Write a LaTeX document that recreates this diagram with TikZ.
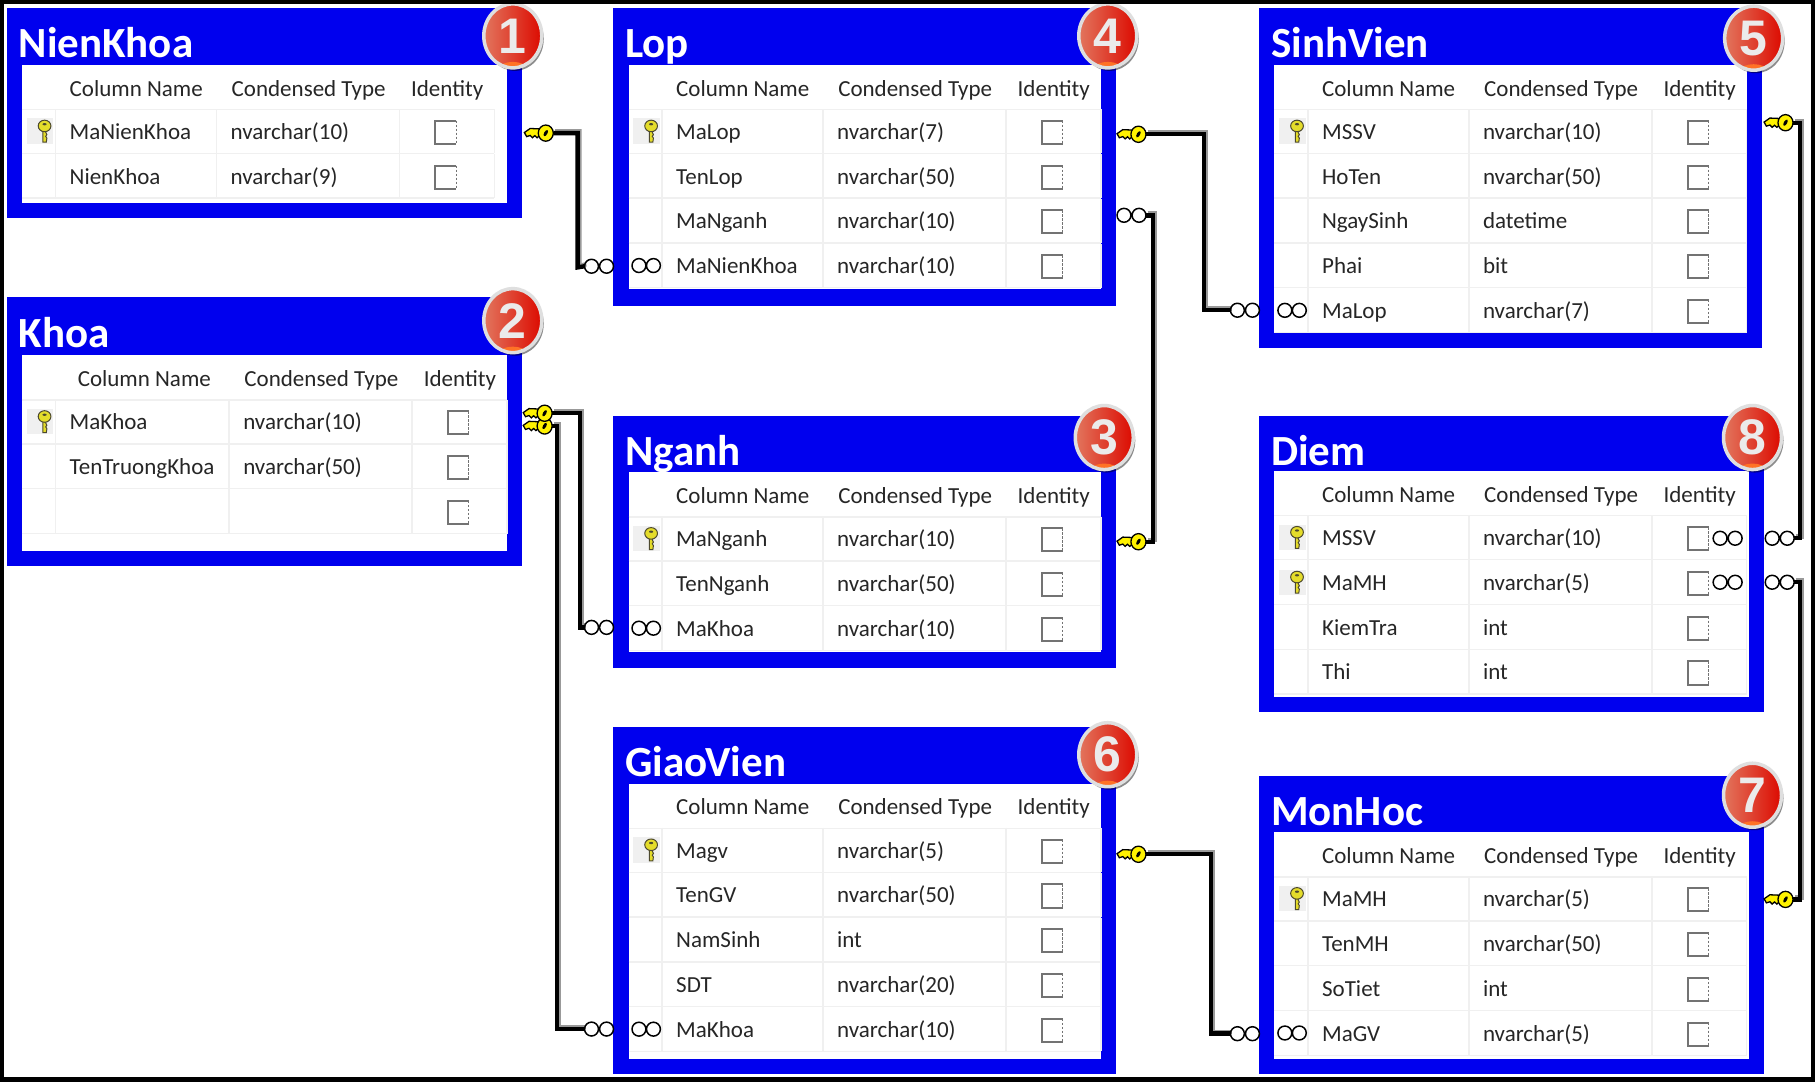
\documentclass[tikz,border=0pt]{standalone}
\usepackage{fontspec}
\setmainfont{Carlito}
\newfontfamily\sofont{Liberation Sans}
\usetikzlibrary{shapes.geometric,shadows}
\definecolor{xanhbang}{HTML}{0000EE}
\definecolor{vangkhoa}{HTML}{FFF200}
\definecolor{vangcot}{HTML}{E4DC2A}
\definecolor{luoibang}{HTML}{F0F0F0}
\definecolor{dotrai}{HTML}{E2765E}
\definecolor{dophai}{HTML}{DC0A00}
\tikzset{
  tieude/.style={anchor=base west,inner sep=0,text=white,font=\fontsize{43}{43}\selectfont\bfseries},
  chu/.style={anchor=base west,inner sep=0,text=black!85,font=\fontsize{23}{23}\selectfont},
  huyhieu/.style={ellipse,minimum width=58pt,minimum height=64pt,inner sep=0,text=white!92!black,
    font=\fontsize{50}{50}\selectfont\sofont\bfseries,left color=dotrai,right color=dophai,
    draw=gray!25,line width=3.5pt,drop shadow={shadow xshift=2pt,shadow yshift=-3pt,opacity=.45,fill=black},
    path picture={\fill[orange!70!red!85!white] (path picture bounding box.south) ellipse (13pt and 6pt);}},
  lienket/.style={draw=black,line width=4.4pt,
    preaction={draw=gray!80,line width=4.4pt,transform canvas={shift={(1.8pt,1.8pt)}}}},
  luoi/.style={draw=luoibang,line width=1.4pt},
  khoangang/.pic={
    \filldraw[fill=vangkhoa,draw=black,line width=1.3pt] (-8,-3.5) -- (-20,-4) -- (-25,-.5) -- (-23,3) -- (-20,2)
      -- (-18,4) -- (-16,2.2) -- (-14,4) -- (-12,2.2) -- (-8,3.5) -- cycle;
    \filldraw[fill=vangkhoa,draw=black,line width=1.3pt] (-6.5,0) ellipse (6.5 and 7);
    \fill[black,rotate around={60:(-6.5,0)}] (-6.5,0) ellipse (3 and 1.4);
  },
  cotkhoa/.pic={
    \fill[gray!12] (-11,-11) rectangle (12,11);
    \filldraw[fill=vangcot,draw=black!60!olive,line width=1pt] (3,-2) -- (3,9.5) -- (6,9.5) -- (6.5,6) -- (5.5,4.5) -- (6.5,3) -- (5.5,1)
      -- (6,-2) -- cycle;
    \filldraw[fill=vangcot,draw=black!60!olive,line width=1pt] (4.5,-4.5) ellipse (5.5 and 5);
    \fill[black!60!olive] (4.5,-6) ellipse (1.8 and 1);
  },
  vocuc/.pic={
    \draw[black,line width=1.5pt] (6,0) circle (6) (19,0) circle (6);
  },
  cotvocuc/.pic={
    \draw[black,line width=1.5pt] (-6,0) circle (6) (6.5,0) circle (6);
  },
  trong/.pic={},
  otick/.pic={
    \draw[gray!90!black,line width=2pt] (9,-10) -- (-9,-10) -- (-9,10) -- (9,10);
    \draw[gray!90!black,line width=1pt,dash pattern=on 2.5pt off 1.5pt] (9,-10) -- (9,10);
  },
}
% Độ lệch cột (bảng Khoa rộng hơn)
\def\lechcot{0}
\def\lechten{0}
% #1 tên, #2 tiêu đề, #3 trái, #4 trên, #5 phải, #6 đáy trắng, #7 đáy, #8 y tiêu đề cột, #9 các dòng
\newcommand{\bangdl}[9]{
  \fill[xanhbang] (#3,#4) rectangle (#5,#7);
  \fill[white] (#3+13,#8-20) rectangle (#5-13,#6);
  \node[tieude] (#1-ten) at (#3+10,#4+43) {#2};
  \node[chu] (#1-cot) at (#3+54+\lechten,#8+7) {Column Name};
  \node[chu] (#1-kieu) at (#3+194+\lechcot,#8+7) {Condensed Type};
  \node[chu] (#1-dinh) at (#3+349+\lechcot,#8+7) {Identity};
  \draw[luoi] (#3+13,#8+18.5) -- (#3+421+\lechcot,#8+18.5);
  \foreach \ten/\kieu/\dau [count=\i] in {#9} {
    \pgfmathsetmacro{\ydong}{#8+37.3+(\i-1)*38.7}
    \draw[luoi] (#3+13,\ydong+19.2) -- (#3+421+\lechcot,\ydong+19.2);
    \foreach \xcot in {42,181,339,421}
      \draw[luoi] ({#3+\xcot+(\xcot>42)*\lechcot},\ydong-19) -- ({#3+\xcot+(\xcot>42)*\lechcot},\ydong+19.2);
    \pic at (#3+28,\ydong) {\dau};
    \node[chu] (#1-ten\i) at (#3+54,\ydong+7) {\ten};
    \node[chu] (#1-kieu\i) at (#3+193+\lechcot,\ydong+7) {\kieu};
    \pic at (#3+379+\lechcot,\ydong+1) {otick};
  }
}
\begin{document}
\begin{tikzpicture}[x=1.1575pt,y=-1.1575pt]
    \useasboundingbox (0,0) rectangle (1568,934);
    \fill[white] (0,0) rectangle (1568,934);

    % Vẽ các bảng
    \bangdl{nienkhoa}{NienKhoa}{6}{7}{451}{175}{188}{76}{MaNienKhoa/nvarchar(10)/cotkhoa,NienKhoa/nvarchar(9)/trong}
    \def\lechcot{11}
    \def\lechten{7}
    \bangdl{khoa}{Khoa}{6}{257}{451}{476}{489}{327}{MaKhoa/nvarchar(10)/cotkhoa,TenTruongKhoa/nvarchar(50)/trong,{}/{}/trong}
    \def\lechcot{0}
    \def\lechten{0}
    \bangdl{lop}{Lop}{530}{7}{964}{250}{264}{76}{MaLop/nvarchar(7)/cotkhoa,TenLop/nvarchar(50)/trong,MaNganh/nvarchar(10)/trong,MaNienKhoa/nvarchar(10)/cotvocuc}
    \bangdl{nganh}{Nganh}{530}{359}{964}{563}{577}{428}{MaNganh/nvarchar(10)/cotkhoa,TenNganh/nvarchar(50)/trong,MaKhoa/nvarchar(10)/cotvocuc}
    \bangdl{giaovien}{GiaoVien}{530}{628}{964}{915}{928}{697}{Magv/nvarchar(5)/cotkhoa,TenGV/nvarchar(50)/trong,NamSinh/int/trong,SDT/nvarchar(20)/trong,MaKhoa/nvarchar(10)/cotvocuc}
    \bangdl{sinhvien}{SinhVien}{1088}{7}{1522}{288}{301}{76}{MSSV/nvarchar(10)/cotkhoa,HoTen/nvarchar(50)/trong,NgaySinh/datetime/trong,Phai/bit/trong,MaLop/nvarchar(7)/cotvocuc}
    \bangdl{diem}{Diem}{1088}{359}{1524}{602}{615}{427}{MSSV/nvarchar(10)/cotkhoa,MaMH/nvarchar(5)/cotkhoa,KiemTra/int/trong,Thi/int/trong}
    \bangdl{monhoc}{MonHoc}{1088}{670}{1524}{915}{928}{739}{MaMH/nvarchar(5)/cotkhoa,TenMH/nvarchar(50)/trong,SoTiet/int/trong,MaGV/nvarchar(5)/cotvocuc}

    % Đặt tên đầu các đường nối
    \coordinate (kNienKhoa) at (478,115);
    \coordinate (vLop1) at (505,230);
    \coordinate (kKhoa1) at (477,357);
    \coordinate (vNganh) at (505,542);
    \coordinate (kKhoa2) at (477,368);
    \coordinate (vGiaoVien) at (505,889);
    \coordinate (kLop) at (990,116);
    \coordinate (vSinhVien) at (1063,268);
    \coordinate (vLop2) at (990,186);
    \coordinate (kNganh) at (990,468);
    \coordinate (kSinhVien) at (1549,106);
    \coordinate (vDiem1) at (1550,465);
    \coordinate (vDiem2) at (1550,503);
    \coordinate (kMonHoc) at (1549,777);
    \coordinate (kGiaoVien) at (990,738);
    \coordinate (vMonHoc) at (1063,893);

    % Vẽ các đường nối
    \draw[lienket] (kNienKhoa) -- (499,115) -- (499,231) -- (vLop1);
    \draw[lienket] (kKhoa1) -- (501,357) -- (501,542) -- (vNganh);
    \draw[lienket] (kKhoa2) -- (481,368) -- (481,889) -- (vGiaoVien);
    \draw[lienket] (kLop) -- (1040,116) -- (1040,268) -- (vSinhVien);
    \draw[lienket] (vLop2) -- (996,186) -- (996,468) -- (kNganh);
    \draw[lienket] (kSinhVien) -- (1555,106) -- (1555,465) -- (vDiem1);
    \draw[lienket] (vDiem2) -- (1555,503) -- (1555,777) -- (kMonHoc);
    \draw[lienket] (kGiaoVien) -- (1046,738) -- (1046,893) -- (vMonHoc);

    % Vẽ chìa khóa
    \foreach \k in {kNienKhoa,kKhoa2,kKhoa1,kLop,kNganh,kSinhVien,kMonHoc,kGiaoVien}
    \pic at (\k) {khoangang};

    % Vẽ vô cực
    \foreach \v in {vLop1,vNganh,vGiaoVien,vSinhVien,vMonHoc}
    \pic at (\v) {vocuc};
    \foreach \v in {vLop2,vDiem1,vDiem2}
    \pic[xscale=-1] at (\v) {vocuc};
    \pic at (1480,465) {vocuc};
    \pic at (1480,503) {vocuc};

    % Vẽ số thứ tự
    \node[huyhieu] (so1) at (443,31) {1};
    \node[huyhieu] (so2) at (443,277) {2};
    \node[huyhieu] (so3) at (954,378) {3};
    \node[huyhieu] (so4) at (957,31) {4};
    \node[huyhieu] (so5) at (1515,33) {5};
    \node[huyhieu] (so6) at (957,652) {6};
    \node[huyhieu] (so7) at (1514,687) {7};
    \node[huyhieu] (so8) at (1514,378) {8};

    % Khung ngoài
    \draw[black,line width=8pt] (0,0) rectangle (1568,934);
    \end{tikzpicture}
\end{document}
